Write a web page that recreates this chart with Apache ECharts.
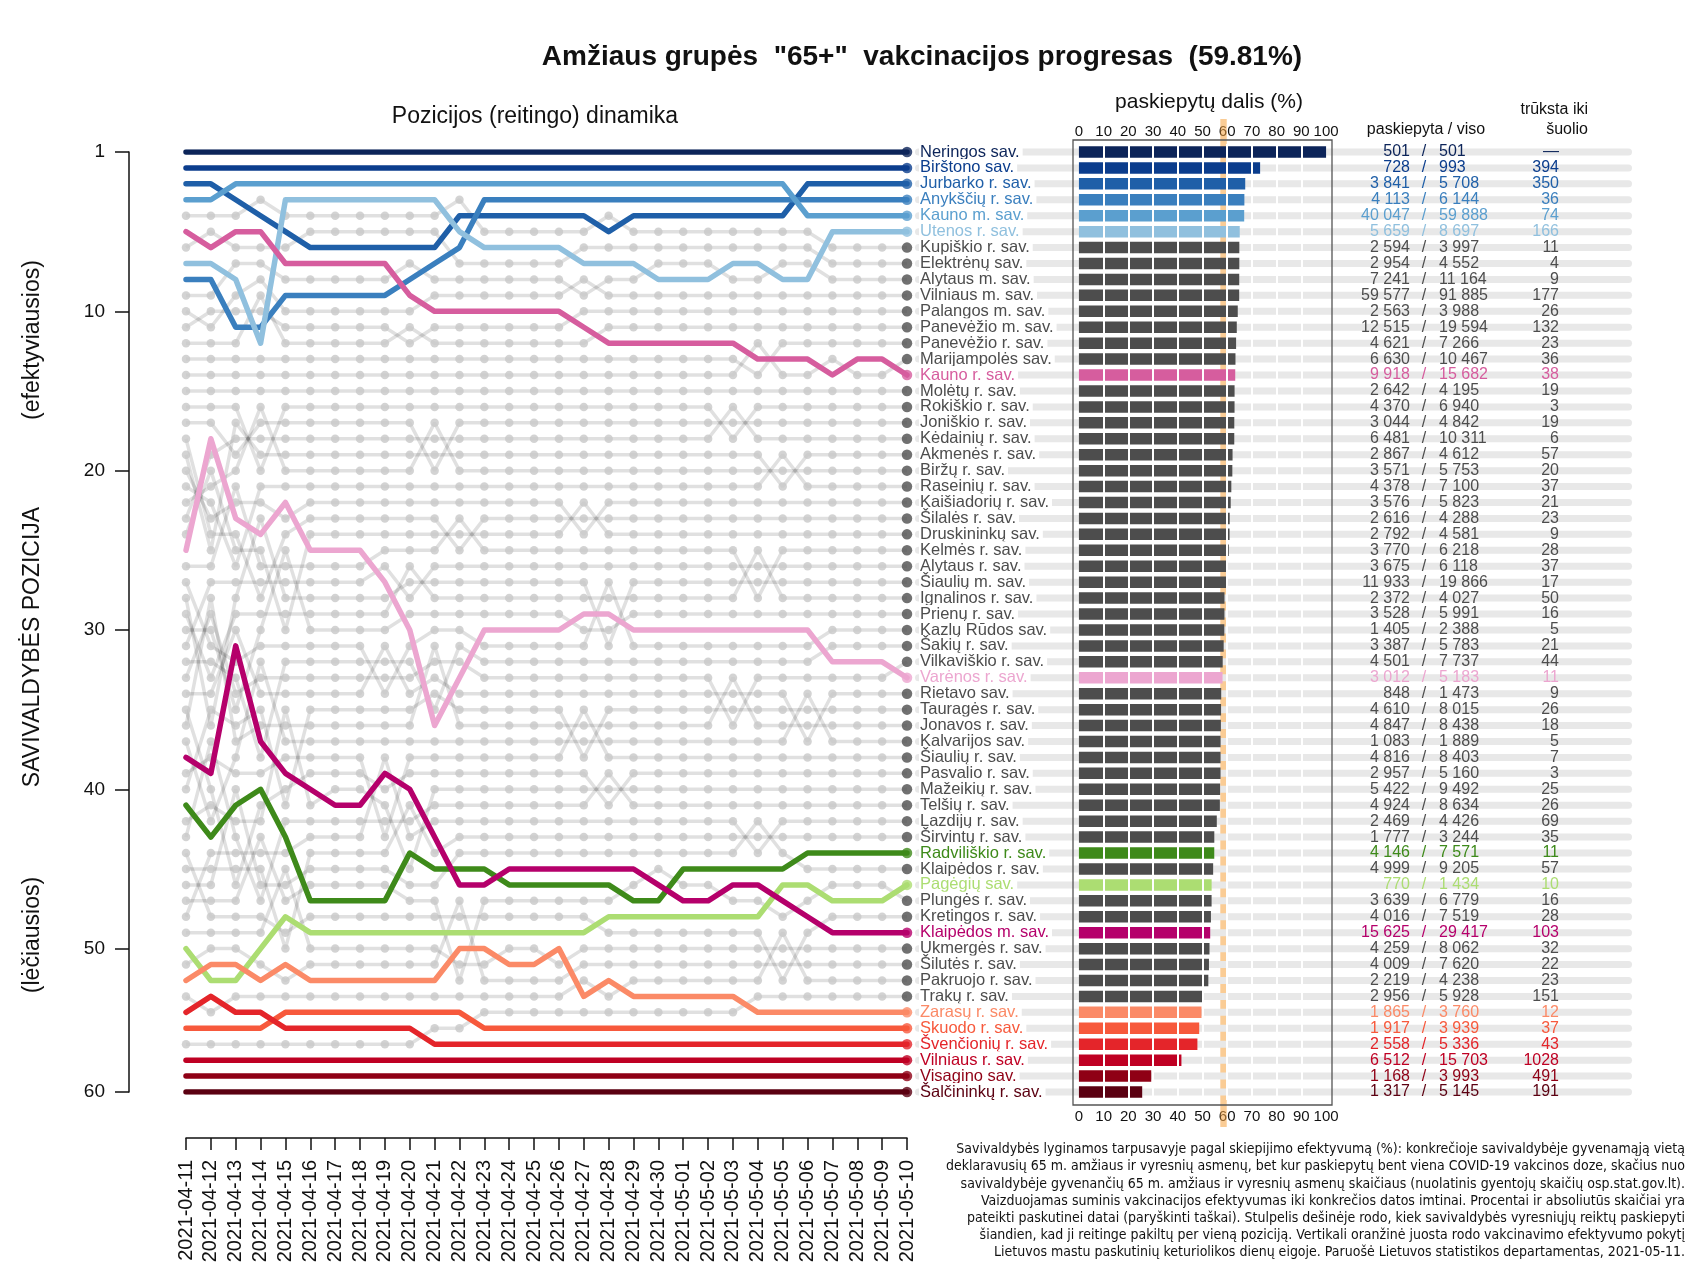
<!DOCTYPE html>
<html><head><meta charset="utf-8">
<script src="https://cdn.jsdelivr.net/npm/echarts@6/dist/echarts.min.js"></script>
<style>html,body{margin:0;padding:0;background:#fff}#c{width:1707px;height:1280px}</style>
</head><body><div id="c"></div>
<script>
const dates = ['2021-04-11','2021-04-12','2021-04-13','2021-04-14','2021-04-15','2021-04-16','2021-04-17','2021-04-18','2021-04-19','2021-04-20',
'2021-04-21','2021-04-22','2021-04-23','2021-04-24','2021-04-25','2021-04-26','2021-04-27','2021-04-28','2021-04-29','2021-04-30',
'2021-05-01','2021-05-02','2021-05-03','2021-05-04','2021-05-05','2021-05-06','2021-05-07','2021-05-08','2021-05-09','2021-05-10'];

const names = ['Neringos sav.','Birštono sav.','Jurbarko r. sav.','Anykščių r. sav.','Kauno m. sav.','Utenos r. sav.','Kupiškio r. sav.','Elektrėnų sav.','Alytaus m. sav.','Vilniaus m. sav.',
'Palangos m. sav.','Panevėžio m. sav.','Panevėžio r. sav.','Marijampolės sav.','Kauno r. sav.','Molėtų r. sav.','Rokiškio r. sav.','Joniškio r. sav.','Kėdainių r. sav.','Akmenės r. sav.',
'Biržų r. sav.','Raseinių r. sav.','Kaišiadorių r. sav.','Šilalės r. sav.','Druskininkų sav.','Kelmės r. sav.','Alytaus r. sav.','Šiaulių m. sav.','Ignalinos r. sav.','Prienų r. sav.',
'Kazlų Rūdos sav.','Šakių r. sav.','Vilkaviškio r. sav.','Varėnos r. sav.','Rietavo sav.','Tauragės r. sav.','Jonavos r. sav.','Kalvarijos sav.','Šiaulių r. sav.','Pasvalio r. sav.',
'Mažeikių r. sav.','Telšių r. sav.','Lazdijų r. sav.','Širvintų r. sav.','Radviliškio r. sav.','Klaipėdos r. sav.','Pagėgių sav.','Plungės r. sav.','Kretingos r. sav.','Klaipėdos m. sav.',
'Ukmergės r. sav.','Šilutės r. sav.','Pakruojo r. sav.','Trakų r. sav.','Zarasų r. sav.','Skuodo r. sav.','Švenčionių r. sav.','Vilniaus r. sav.','Visagino sav.','Šalčininkų r. sav.'];

const vaccinated = [501,728,3841,4113,40047,5659,2594,2954,7241,59577,
2563,12515,4621,6630,9918,2642,4370,3044,6481,2867,
3571,4378,3576,2616,2792,3770,3675,11933,2372,3528,
1405,3387,4501,3012,848,4610,4847,1083,4816,2957,
5422,4924,2469,1777,4146,4999,770,3639,4016,15625,
4259,4009,2219,2956,1865,1917,2558,6512,1168,1317];

const population = [501,993,5708,6144,59888,8697,3997,4552,11164,91885,
3988,19594,7266,10467,15682,4195,6940,4842,10311,4612,
5753,7100,5823,4288,4581,6218,6118,19866,4027,5991,
2388,5783,7737,5183,1473,8015,8438,1889,8403,5160,
9492,8634,4426,3244,7571,9205,1434,6779,7519,29417,
8062,7620,4238,5928,3760,3939,5336,15703,3993,5145];

const shortfall = [null,394,350,36,74,166,11,4,9,177,
26,132,23,36,38,19,3,19,6,57,
20,37,21,23,9,28,37,17,50,16,
5,21,44,11,9,26,18,5,7,3,
25,26,69,35,11,57,10,16,28,103,
32,22,23,151,12,37,43,1028,491,191];

// rank of each municipality (same order as names) on each date
const ranks = [
[1,1,1,1,1,1,1,1,1,1,1,1,1,1,1,1,1,1,1,1,1,1,1,1,1,1,1,1,1,1],
[2,2,2,2,2,2,2,2,2,2,2,2,2,2,2,2,2,2,2,2,2,2,2,2,2,2,2,2,2,2],
[3,3,4,5,6,7,7,7,7,7,7,5,5,5,5,5,5,6,5,5,5,5,5,5,5,3,3,3,3,3],
[9,9,12,12,10,10,10,10,10,9,8,7,4,4,4,4,4,4,4,4,4,4,4,4,4,4,4,4,4,4],
[4,4,3,3,3,3,3,3,3,3,3,3,3,3,3,3,3,3,3,3,3,3,3,3,3,5,5,5,5,5],
[8,8,9,13,4,4,4,4,4,4,4,6,7,7,7,7,8,8,8,9,9,9,8,8,9,9,6,6,6,6],
[5,5,5,4,5,5,5,5,5,5,5,4,6,6,6,6,6,5,6,6,6,6,6,6,6,6,7,7,7,7],
[7,6,7,7,7,6,6,6,6,6,6,8,8,8,8,8,7,7,7,7,7,7,7,7,7,7,8,8,8,8],
[10,10,8,8,9,9,9,9,9,8,9,9,9,9,9,9,10,9,9,8,8,8,9,9,8,8,9,9,9,9],
[11,12,10,9,11,11,11,11,11,11,10,10,10,10,10,10,9,10,10,10,10,10,10,10,10,10,10,10,10,10],
[12,11,11,11,12,12,12,12,12,13,12,12,12,12,12,12,11,11,11,11,11,11,11,11,11,11,11,11,11,11],
[13,13,13,10,13,13,13,13,13,12,13,13,13,13,13,13,13,12,12,12,12,12,12,12,12,12,12,12,12,12],
[14,14,14,14,14,14,14,14,14,14,14,14,14,14,14,14,14,14,14,14,14,14,14,15,13,13,13,13,13,13],
[15,15,15,15,15,15,15,15,15,15,15,15,15,15,15,15,15,15,15,15,15,15,15,13,15,15,14,15,15,14],
[6,7,6,6,8,8,8,8,8,10,11,11,11,11,11,11,12,13,13,13,13,13,13,14,14,14,15,14,14,15],
[16,16,16,16,16,16,16,16,16,16,16,16,16,16,16,16,16,16,16,16,16,16,16,16,16,16,16,16,16,16],
[17,17,17,21,17,17,17,17,17,17,17,17,17,17,17,17,17,17,17,17,17,17,19,17,17,17,17,17,17,17],
[18,18,20,18,18,18,18,18,18,18,21,18,18,18,18,18,18,18,18,18,18,18,18,18,18,18,18,18,18,18],
[24,20,19,19,19,19,19,19,19,19,19,19,19,19,19,19,19,19,19,19,19,19,17,19,19,19,19,19,19,19],
[20,26,18,20,20,20,20,20,20,20,20,20,20,20,20,20,20,20,20,20,20,20,20,20,22,20,20,20,20,20],
[23,22,21,17,21,21,21,21,21,21,18,21,21,21,21,21,21,21,21,21,21,21,21,21,21,21,21,21,21,21],
[22,23,27,22,22,22,22,22,22,22,22,22,22,22,22,22,22,22,22,22,22,22,22,22,20,22,22,22,22,22],
[21,24,23,23,24,23,23,23,23,23,23,23,23,23,23,23,25,23,23,23,23,23,23,23,23,23,23,23,23,23],
[19,25,25,29,25,24,24,24,24,24,24,26,24,24,24,24,24,24,24,24,24,24,24,24,24,24,24,24,24,24],
[25,21,26,26,31,25,25,25,25,25,25,25,25,25,25,25,23,25,25,25,25,25,25,25,25,25,25,25,25,25],
[27,27,22,27,27,27,27,27,26,26,26,24,26,26,26,26,26,26,26,26,26,26,26,29,26,26,26,26,26,26],
[32,28,28,28,28,28,28,28,27,29,27,27,27,27,27,27,27,27,27,27,27,27,27,27,27,27,27,27,27,27],
[29,37,29,24,29,29,29,29,29,28,28,28,28,28,28,28,28,32,28,28,28,28,28,28,28,28,28,28,28,28],
[30,34,30,30,30,30,30,30,30,27,29,29,29,29,29,29,29,29,29,29,29,29,29,26,29,29,29,29,29,29],
[31,31,36,31,26,31,31,31,31,30,30,30,30,30,30,30,31,31,30,30,30,30,30,30,30,30,30,30,30,30],
[28,32,33,32,32,32,32,32,35,32,31,31,32,32,32,32,32,28,32,32,32,32,32,32,32,32,31,31,31,31],
[33,33,34,39,33,33,33,33,33,33,36,32,33,33,33,33,33,33,33,33,33,33,33,33,33,33,32,32,32,32],
[34,30,35,34,34,34,34,34,34,34,33,33,34,34,34,34,34,34,34,34,34,34,37,34,34,34,34,34,34,33],
[26,19,24,25,23,26,26,26,28,31,37,34,31,31,31,31,30,30,31,31,31,31,31,31,31,31,33,33,33,34],
[35,35,31,35,35,35,35,35,32,35,34,35,35,35,35,35,35,35,35,35,35,35,35,35,35,38,35,35,35,35],
[41,36,37,36,42,36,36,36,36,36,35,36,36,36,36,36,39,36,36,36,36,36,36,36,36,36,36,36,36,36],
[37,29,38,37,37,37,37,37,37,37,32,37,37,37,37,37,37,37,37,37,37,37,34,37,37,37,37,37,37,37],
[38,43,39,33,38,38,38,38,38,38,38,38,38,38,38,38,38,38,38,38,38,38,38,38,38,35,38,38,38,38],
[40,39,40,40,39,39,39,39,44,39,39,39,39,39,39,39,36,39,39,39,39,39,39,39,39,39,39,39,39,39],
[36,41,47,42,41,40,40,40,41,40,40,40,40,40,40,40,40,42,40,40,40,40,40,40,40,40,40,40,40,40],
[43,42,43,43,36,42,41,41,42,46,41,41,41,41,41,41,41,41,41,41,41,41,41,41,41,41,41,41,41,41],
[44,38,44,48,43,43,43,43,43,43,42,42,42,42,42,42,42,40,42,42,42,42,42,42,42,42,42,42,42,42],
[49,45,45,45,45,44,44,44,39,44,43,43,43,43,43,43,43,43,43,43,43,43,43,45,43,43,43,43,43,43],
[46,46,46,46,51,45,45,45,45,42,45,44,44,44,44,44,44,44,44,44,44,44,44,44,44,44,44,44,44,44],
[42,44,42,41,44,48,48,48,48,45,46,46,46,47,47,47,47,47,48,48,46,46,46,46,46,45,45,45,45,45],
[47,47,41,47,47,46,46,46,46,47,47,45,45,45,45,45,45,45,45,45,45,45,45,43,45,46,46,46,46,46],
[51,53,53,51,49,50,50,50,50,50,50,50,50,50,50,50,50,49,49,49,49,49,49,49,47,47,48,48,48,47],
[48,48,48,44,48,47,47,47,47,48,48,53,48,48,48,48,48,48,47,46,47,47,48,48,49,48,47,47,47,48],
[45,49,49,49,50,49,49,49,49,49,49,49,49,49,49,49,49,50,50,50,50,50,50,50,53,50,49,49,49,49],
[39,40,32,38,40,41,42,42,40,41,44,47,47,46,46,46,46,46,46,47,48,48,47,47,48,49,50,50,50,50],
[50,50,50,50,46,51,51,51,51,51,51,52,52,51,51,52,51,51,51,51,51,51,51,51,51,51,51,51,51,51],
[52,51,51,52,53,52,52,52,52,52,52,48,53,53,53,53,52,52,52,52,52,52,52,52,52,52,52,52,52,52],
[54,55,54,54,54,54,54,54,54,54,54,54,54,54,54,54,53,54,53,53,53,53,53,53,50,53,53,53,53,53],
[57,57,57,57,57,57,57,57,57,57,56,56,55,55,55,55,55,55,55,55,55,55,55,54,54,54,54,54,54,54],
[53,52,52,53,52,53,53,53,53,53,53,51,51,52,52,51,54,53,54,54,54,54,54,55,55,55,55,55,55,55],
[56,56,56,56,55,55,55,55,55,55,55,55,56,56,56,56,56,56,56,56,56,56,56,56,56,56,56,56,56,56],
[55,54,55,55,56,56,56,56,56,56,57,57,57,57,57,57,57,57,57,57,57,57,57,57,57,57,57,57,57,57],
[58,58,58,58,58,58,58,58,58,58,58,58,58,58,58,58,58,58,58,58,58,58,58,58,58,58,58,58,58,58],
[59,59,59,59,59,59,59,59,59,59,59,59,59,59,59,59,59,59,59,59,59,59,59,59,59,59,59,59,59,59],
[60,60,60,60,60,60,60,60,60,60,60,60,60,60,60,60,60,60,60,60,60,60,60,60,60,60,60,60,60,60]
];

const yTickValues = [1, 11, 21, 31, 41, 51, 60];
const yTickLabels = ['1', '10', '20', '30', '40', '50', '60'];
const barTicks = [0, 10, 20, 30, 40, 50, 60, 70, 80, 90, 100];
const bandFrom = 57.2;   // national efficiency 14 days ago (estimated)
const bandTo = 59.81;    // national efficiency now

const footnote = [
'Savivaldybės lyginamos tarpusavyje pagal skiepijimo efektyvumą (%): konkrečioje savivaldybėje gyvenamąją vietą',
'deklaravusių 65 m. amžiaus ir vyresnių asmenų, bet kur paskiepytų bent viena COVID-19 vakcinos doze, skačius nuo',
'savivaldybėje gyvenančių 65 m. amžiaus ir vyresnių asmenų skaičiaus (nuolatinis gyentojų skaičių osp.stat.gov.lt).',
'Vaizduojamas suminis vakcinacijos efektyvumas iki konkrečios datos imtinai. Procentai ir absoliutūs skaičiai yra',
'pateikti paskutinei datai (paryškinti taškai). Stulpelis dešinėje rodo, kiek savivaldybės vyresniųjų reiktų paskiepyti',
'šiandien, kad ji reitinge pakiltų per vieną poziciją. Vertikali oranžinė juosta rodo vakcinavimo efektyvumo pokytį',
'Lietuvos mastu paskutinių keturiolikos dienų eigoje. Paruošė Lietuvos statistikos departamentas, 2021-05-11.'
];

// ---- styles ----
const highlightColors = {
  'Neringos sav.':'#0c2459','Birštono sav.':'#0b3d8d','Jurbarko r. sav.':'#1f5fa8','Anykščių r. sav.':'#3a7fbe',
  'Kauno m. sav.':'#5b9fcf','Utenos r. sav.':'#90c0de','Kauno r. sav.':'#d65d9e','Varėnos r. sav.':'#eca6d0',
  'Radviliškio r. sav.':'#3e8a1a','Pagėgių sav.':'#acdd72','Klaipėdos m. sav.':'#b5006b',
  'Zarasų r. sav.':'#fb8a67','Skuodo r. sav.':'#f7593c','Švenčionių r. sav.':'#e4252a',
  'Vilniaus r. sav.':'#bf0023','Visagino sav.':'#8f0015','Šalčininkų r. sav.':'#5b0011'
};
const GRAY = '#4d4d4d';
const FONT = '"Liberation Sans", Arial, Helvetica, sans-serif';
const NARROW = '"Liberation Sans Narrow", "Arial Narrow", "DejaVu Sans Condensed", sans-serif';
const isHi = i => Object.prototype.hasOwnProperty.call(highlightColors, names[i]);
const colorOf = i => isHi(i) ? highlightColors[names[i]] : GRAY;
const fmt = n => n == null ? '—' : String(n).replace(/\B(?=(\d{3})+(?!\d))/g, ' ');
const fmtPlain = n => n == null ? '—' : String(n);
const N = names.length, D = dates.length;
const pct = vaccinated.map((v, i) => v / population[i] * 100);
const rowIdx = names.map((_, i) => String(i));

const ROW_TOP = 144, ROW_H = 956;

const series = [];
// gray lines
for (let i = 0; i < N; i++) if (!isHi(i)) {
  series.push({type:'line', xAxisIndex:0, yAxisIndex:0, data:ranks[i], symbol:'none', z:2, silent:true,
    lineStyle:{color:'rgba(0,0,0,0.12)', width:3.5}});
}
// gray dots
const grayDots = [];
for (let i = 0; i < N; i++) if (!isHi(i)) for (let d = 0; d < D - 1; d++) grayDots.push([d, ranks[i][d]]);
series.push({type:'scatter', xAxisIndex:0, yAxisIndex:0, data:grayDots, symbolSize:8.5, z:3, silent:true,
  itemStyle:{color:'#c8c8c8'}});
// highlighted lines
for (let i = 0; i < N; i++) if (isHi(i)) {
  series.push({type:'line', xAxisIndex:0, yAxisIndex:0, data:ranks[i], symbol:'none', z:4, silent:true,
    lineStyle:{color:colorOf(i), width:5.5, cap:'round', join:'round'}});
}
// last-day dots
series.push({type:'scatter', xAxisIndex:0, yAxisIndex:0, symbolSize:10.5, z:5, silent:true,
  data: names.map((n, i) => ({value:[D - 1, ranks[i][D - 1]], itemStyle:{color:colorOf(i)}}))});

// track rows with names
series.push({type:'bar', xAxisIndex:5, yAxisIndex:4, barWidth:7, z:1, silent:true,
  itemStyle:{color:'#e8e8e8', borderRadius:3.5},
  label:{show:true, position:'insideLeft', distance:4, formatter:p => names[p.dataIndex],
    fontSize:16.5, fontFamily:FONT, backgroundColor:'#fff', padding:[1,3,0,1]},
  data: names.map((n, i) => ({value:1, label:{color:colorOf(i)}}))});

// vaccinated share bars
series.push({type:'bar', xAxisIndex:1, yAxisIndex:1, barWidth:11.5, z:3, silent:true,
  data: pct.map((v, i) => ({value:v, itemStyle:{color:colorOf(i)}})),
  markLine:{silent:true, symbol:['none','none'], label:{show:false}, animation:false,
    lineStyle:{color:'#fff', width:2, type:'solid'},
    data: barTicks.filter(t => t > 0 && t < 100).map(t => ({xAxis:t}))}});

// orange band
series.push({type:'line', xAxisIndex:4, yAxisIndex:3, data:[[bandFrom, 0.5]], symbol:'none', z:6, silent:true,
  markArea:{silent:true, itemStyle:{color:'rgba(245,162,62,0.55)'}, data:[[{xAxis:bandFrom},{xAxis:bandTo}]]}});

const hidX = (g, min, max) => ({gridIndex:g, type:'value', min:min, max:max, show:false});
const colAxis = (g, texts, align) => ({gridIndex:g, type:'category', data:rowIdx, inverse:true, position:'left', z:5,
  axisLine:{show:false}, axisTick:{show:false}, splitLine:{show:false},
  axisLabel:{interval:0, margin:0, align:align, fontSize:16, fontFamily:FONT,
    formatter:(v, idx) => texts[idx], color:(v, idx) => colorOf(idx)}});

const option = {
  animation:false,
  backgroundColor:'#fff',
  grid:[
    {left:186, top:152, width:721, height:940},          // 0 line chart
    {left:1073, top:ROW_TOP, width:259, height:ROW_H},   // 1 bars
    {left:1073, top:140, width:259, height:965, show:true, borderColor:'#555', borderWidth:1.3, backgroundColor:'transparent', z:4}, // 2 frame
    {left:1073, top:119, width:259, height:1008},        // 3 band
    {left:915, top:ROW_TOP, width:717, height:ROW_H},    // 4 track
    {left:1410, top:ROW_TOP, width:1, height:ROW_H},     // 5 numerator
    {left:1424, top:ROW_TOP, width:1, height:ROW_H},     // 6 slash
    {left:1439, top:ROW_TOP, width:1, height:ROW_H},     // 7 denominator
    {left:1559, top:ROW_TOP, width:1, height:ROW_H}      // 8 shortfall
  ],
  xAxis:[
    {gridIndex:0, type:'category', data:dates, boundaryGap:false, offset:46,
      axisLine:{show:true, lineStyle:{color:'#111', width:1.5}},
      axisTick:{show:true, interval:0, length:12, lineStyle:{color:'#111', width:1.5}},
      axisLabel:{interval:0, rotate:90, margin:22, fontSize:20, color:'#111', fontFamily:FONT},
      splitLine:{show:false}},
    {gridIndex:1, type:'value', min:-2.4, max:102.4, position:'top',
      axisLine:{show:false}, axisTick:{show:false}, splitLine:{show:false},
      axisLabel:{customValues:barTicks, margin:5, fontSize:15, color:'#111', fontFamily:FONT}},
    {gridIndex:1, type:'value', min:-2.4, max:102.4, position:'bottom',
      axisLine:{show:false}, axisTick:{show:false}, splitLine:{show:false},
      axisLabel:{customValues:barTicks, margin:9, fontSize:15, color:'#111', fontFamily:FONT}},
    hidX(2, 0, 1),
    hidX(3, -2.4, 102.4),
    hidX(4, 0, 1),
    hidX(5, 0, 1), hidX(6, 0, 1), hidX(7, 0, 1), hidX(8, 0, 1)
  ],
  yAxis:[
    {gridIndex:0, type:'value', min:1, max:60, inverse:true, offset:57,
      axisLine:{show:true, lineStyle:{color:'#111', width:1.5}},
      axisTick:{show:true, length:14, customValues:yTickValues, lineStyle:{color:'#111', width:1.5}},
      axisLabel:{customValues:yTickValues, margin:24, fontSize:19, color:'#111', fontFamily:FONT,
        formatter:v => yTickLabels[yTickValues.indexOf(v)]},
      splitLine:{show:false}},
    {gridIndex:1, type:'category', data:rowIdx, inverse:true, show:false},
    {gridIndex:2, type:'value', min:0, max:1, show:false},
    {gridIndex:3, type:'value', min:0, max:1, show:false},
    {gridIndex:4, type:'category', data:rowIdx, inverse:true, show:false},
    colAxis(5, vaccinated.map(fmt), 'right'),
    colAxis(6, names.map(() => '/'), 'center'),
    colAxis(7, population.map(fmt), 'left'),
    colAxis(8, shortfall.map(fmtPlain), 'right')
  ],
  series: series,
  graphic:{elements:[
    {type:'text', x:922, y:57, style:{text:'Amžiaus grupės  "65+"  vakcinacijos progresas  (59.81%)', font:'bold 28px ' + FONT, fill:'#111', textAlign:'center', textVerticalAlign:'middle', align:'center', verticalAlign:'middle'}},
    {type:'text', x:535, y:117, style:{text:'Pozicijos (reitingo) dinamika', font:'23px ' + FONT, fill:'#111', textAlign:'center', textVerticalAlign:'middle', align:'center', verticalAlign:'middle'}},
    {type:'text', x:1209, y:102, style:{text:'paskiepytų dalis (%)', font:'21px ' + FONT, fill:'#111', textAlign:'center', textVerticalAlign:'middle', align:'center', verticalAlign:'middle'}},
    {type:'text', x:1426, y:130, style:{text:'paskiepyta / viso', font:'16px ' + FONT, fill:'#111', textAlign:'center', textVerticalAlign:'middle', align:'center', verticalAlign:'middle'}},
    {type:'text', x:1588, y:110, style:{text:'trūksta iki', font:'16px ' + FONT, fill:'#111', textAlign:'right', textVerticalAlign:'middle', align:'right', verticalAlign:'middle'}},
    {type:'text', x:1588, y:130, style:{text:'šuolio', font:'16px ' + FONT, fill:'#111', textAlign:'right', textVerticalAlign:'middle', align:'right', verticalAlign:'middle'}},
    {type:'text', x:33, y:647, rotation:Math.PI / 2, style:{text:'SAVIVALDYBĖS POZICIJA', font:'23px ' + FONT, fill:'#111', textAlign:'center', textVerticalAlign:'middle', align:'center', verticalAlign:'middle'}},
    {type:'text', x:33, y:340, rotation:Math.PI / 2, style:{text:'(efektyviausios)', font:'23px ' + FONT, fill:'#111', textAlign:'center', textVerticalAlign:'middle', align:'center', verticalAlign:'middle'}},
    {type:'text', x:33, y:935, rotation:Math.PI / 2, style:{text:'(lėčiausios)', font:'23px ' + FONT, fill:'#111', textAlign:'center', textVerticalAlign:'middle', align:'center', verticalAlign:'middle'}},
    {type:'text', x:1685, y:1141, style:{text:footnote.join('\n'), font:'14px ' + NARROW, lineHeight:17.2, fill:'#111', textAlign:'right', textVerticalAlign:'top', align:'right', verticalAlign:'top'}}
  ]}
};

const chart = echarts.init(document.getElementById('c'), null, {renderer:'canvas', width:1707, height:1280});
chart.setOption(option);
</script>
</body></html>
